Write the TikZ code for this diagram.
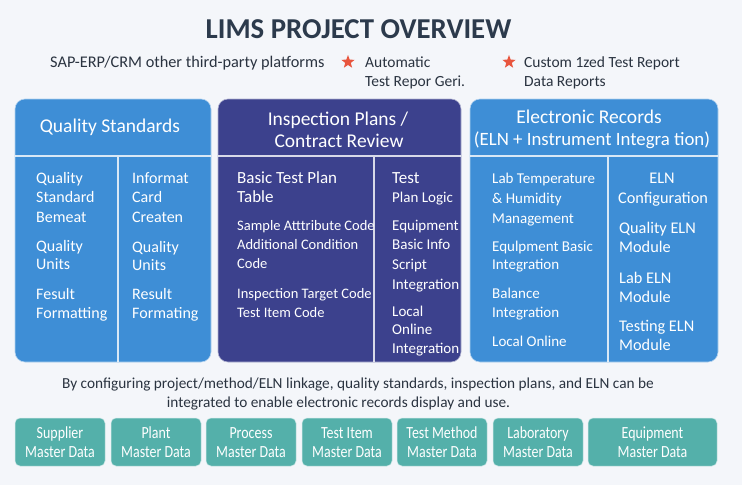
\documentclass[tikz,border=0pt]{standalone}
\usepackage{fontspec}
\setmainfont{Carlito}
\newfontfamily\condfont[FakeStretch=0.82]{Carlito}
\usetikzlibrary{shapes.geometric}
\definecolor{bgc}{HTML}{F4F6FA}
\definecolor{bluep}{HTML}{3E8ED6}
\definecolor{indp}{HTML}{3C418D}
\definecolor{tealb}{HTML}{54B0AA}
\definecolor{titc}{HTML}{2C3A4C}
\definecolor{txtc}{HTML}{2A3340}
\definecolor{starc}{HTML}{E8553E}
\tikzset{
  panel/.style={rounded corners=10pt, draw=white!60!bluep, line width=0.6pt},
  divl/.style={draw=white, draw opacity=0.8, line width=1.2pt},
  itm/.style={anchor=base west, inner sep=0pt, text=white, font=\fontsize{15}{18}\selectfont},
  itml/.style={itm, font=\fontsize{16}{19}\selectfont},
  itms/.style={itm, font=\fontsize{14.5}{18}\selectfont},
  itmr/.style={itm, font=\fontsize{16.3}{19}\selectfont},
  itmc/.style={itmr, anchor=base},
  itmb/.style={itm, font=\fontsize{17}{20}\selectfont},
  hdr/.style={anchor=base, inner sep=0pt, text=white, font=\fontsize{19.5}{22}\selectfont},
  sub/.style={anchor=base west, inner sep=0pt, text=txtc, font=\fontsize{15.5}{18}\selectfont},
  strm/.style={star, star points=5, star point ratio=2.4, fill=starc, minimum size=14pt, inner sep=0pt},
  md/.style={rounded corners=5pt, fill=tealb, draw=white!70!tealb, line width=0.5pt},
  mdt/.style={anchor=base, inner sep=0pt, text=white, font=\condfont\fontsize{17}{19}\selectfont},
  note/.style={anchor=base, inner sep=0pt, text=txtc, font=\fontsize{15.3}{18}\selectfont},
}
\begin{document}
\begin{tikzpicture}[x=1pt,y=-1pt]
\useasboundingbox (0,0) rectangle (742,485);
\fill[bgc] (0,0) rectangle (742,485);

% title
\node[anchor=base, inner sep=0pt, text=titc, font=\bfseries\fontsize{28.8}{32}\selectfont] (title) at (358.5,38) {LIMS PROJECT OVERVIEW};

% subtitle row
\node[sub, font=\fontsize{16.3}{18}\selectfont] (sap) at (50,67) {SAP-ERP/CRM other third-party platforms};
\node[strm] (st1) at (348,62) {};
\node[sub] (auto1) at (365,67) {Automatic};
\node[sub] (auto2) at (365,86) {Test Repor Geri.};
\node[strm] (st2) at (509,62) {};
\node[sub] (cus1) at (524,67) {Custom 1zed Test Report};
\node[sub] (cus2) at (524,86) {Data Reports};

% panels
\path[panel, fill=bluep] (15,99) rectangle (211,362);
\path[panel, fill=indp, draw=white!60!indp] (218,99) rectangle (461,362);
\path[panel, fill=bluep] (470,99) rectangle (718,362);
\draw[divl] (15,156) -- (211,156) (118,156) -- (118,362);
\draw[divl] (218,156) -- (461,156) (374,156) -- (374,362);
\draw[divl] (470,156) -- (718,156) (608,156) -- (608,362);

% headers
\node[hdr] (h1) at (110,132) {Quality Standards};
\node[hdr] (h2a) at (338,125) {Inspection Plans /};
\node[hdr] (h2b) at (339,147) {Contract Review};
\node[hdr] (h3a) at (589,123) {Electronic Records};
\node[hdr, font=\fontsize{18.8}{22}\selectfont] (h3b) at (592,145) {(ELN + Instrument Integra tion)};

% panel 1 left
\node[itml] (a1) at (36,183) {Quality};
\node[itml] (a2) at (36,202) {Standard};
\node[itml] (a3) at (36,222) {Bemeat};
\node[itml] (a4) at (36,251) {Quality};
\node[itml] (a5) at (36,269) {Units};
\node[itml] (a6) at (36,299) {Fesult};
\node[itml] (a7) at (36,318) {Formatting};
% panel 1 right
\node[itml] (b1) at (132,183) {Informat};
\node[itml] (b2) at (132,202) {Card};
\node[itml] (b3) at (132,222) {Createn};
\node[itml] (b4) at (132,252) {Quality};
\node[itml] (b5) at (132,270) {Units};
\node[itml] (b6) at (132,299) {Result};
\node[itml] (b7) at (132,318) {Formating};

% panel 2 left
\node[itmb] (c1) at (237,183) {Basic Test Plan};
\node[itmb] (c2) at (237,202) {Table};
\node[itms] (c3) at (237,230) {Sample Atttribute Code};
\node[itms] (c4) at (237,249) {Additional Condition};
\node[itms] (c5) at (237,268) {Code};
\node[itms] (c6) at (237,298) {Inspection Target Code};
\node[itms] (c7) at (237,317) {Test Item Code};
% panel 2 right
\node[itmb] (d1) at (392,183) {Test};
\node[itm] (d2) at (392,202) {Plan Logic};
\node[itm] (d3) at (392,230) {Equipment};
\node[itm] (d4) at (392,249) {Basic Info};
\node[itm] (d5) at (392,269) {Script};
\node[itm] (d6) at (392,289) {Integration};
\node[itm] (d7) at (392,316) {Local};
\node[itm] (d8) at (392,334) {Online};
\node[itm] (d9) at (392,353) {Integration};

% panel 3 left
\node[itm] (e1) at (492,183) {Lab Temperature};
\node[itm] (e2) at (492,203) {\& Humidity};
\node[itm] (e3) at (492,223) {Management};
\node[itm] (e4) at (492,251) {Equlpment Basic};
\node[itm] (e5) at (492,269) {Integration};
\node[itm] (e6) at (492,298) {Balance};
\node[itm] (e7) at (492,317) {Integration};
\node[itm] (e8) at (492,346) {Local Online};
% panel 3 right
\node[itmc] (f1) at (662,183) {ELN};
\node[itmc] (f2) at (663,203) {Configuration};
\node[itmr] (f3) at (619,233) {Quality ELN};
\node[itmr] (f4) at (619,252) {Module};
\node[itmr] (f5) at (619,283) {Lab ELN};
\node[itmr] (f6) at (619,302) {Module};
\node[itmr] (f7) at (619,331) {Testing ELN};
\node[itmr] (f8) at (619,350) {Module};

% bottom text
\node[note] (note1) at (358,388) {By configuring project/method/ELN linkage, quality standards, inspection plans, and ELN can be};
\node[note] (note2) at (338.5,407) {integrated to enable electronic records display and use.};

% master data boxes
\path[md] (15,418) rectangle (105,466);
\path[md] (111,418) rectangle (201,466);
\path[md] (206,418) rectangle (296,466);
\path[md] (302,418) rectangle (392,466);
\path[md] (397,418) rectangle (487,466);
\path[md] (493,418) rectangle (583,466);
\path[md] (588,418) rectangle (717,466);
\node[mdt] (m1a) at (60,438) {Supplier};
\node[mdt] (m1b) at (60,457) {Master Data};
\node[mdt] (m2a) at (156,438) {Plant};
\node[mdt] (m2b) at (156,457) {Master Data};
\node[mdt] (m3a) at (251,438) {Process};
\node[mdt] (m3b) at (251,457) {Master Data};
\node[mdt] (m4a) at (347,438) {Test Item};
\node[mdt] (m4b) at (347,457) {Master Data};
\node[mdt] (m5a) at (442,438) {Test Method};
\node[mdt] (m5b) at (442,457) {Master Data};
\node[mdt] (m6a) at (538,438) {Laboratory};
\node[mdt] (m6b) at (538,457) {Master Data};
\node[mdt] (m7a) at (652.5,438) {Equipment};
\node[mdt] (m7b) at (652.5,457) {Master Data};
\end{tikzpicture}
\end{document}
